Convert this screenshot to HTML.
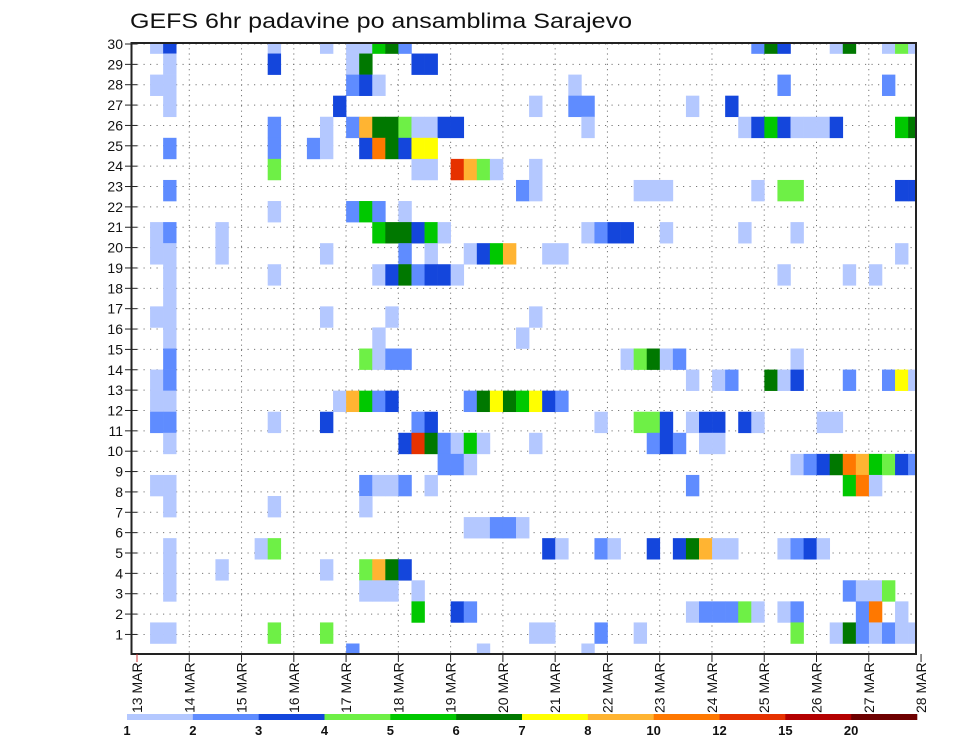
<!DOCTYPE html>
<html><head><meta charset="utf-8"><style>
html,body{margin:0;padding:0;background:#fff;}
svg{display:block;font-family:"Liberation Sans",sans-serif;}
</style></head><body>
<svg id="chart" width="960" height="742" viewBox="0 0 960 742" xmlns="http://www.w3.org/2000/svg">
<text x="130" y="28" font-size="21" textLength="502" lengthAdjust="spacingAndGlyphs" fill="#111">GEFS 6hr padavine po ansamblima Sarajevo</text>
<defs><clipPath id="pc"><rect x="131.5" y="43" width="784.5" height="611"/></clipPath></defs>
<g id="grid"></g>
<g id="cells" clip-path="url(#pc)"></g>
<rect x="131.5" y="43" width="784.5" height="611" fill="none" stroke="#222" stroke-width="2"/>
<g id="yaxis"></g>
<g id="xaxis"></g>
<g id="cbar"></g>
</svg>
<script>
// member rows top (r0) to bottom (r29); each 10-char group = 10 six-hour columns; char = colour level index (0 none)
const Z="0000000000";
const rowData = [
["0130000000","1000101156","2000000000",Z,"0000000263","0001600141"],
["0010000000","3000001600","0330000000",Z,Z,Z],
["0110000000","0000002310",Z,"0001000000","0000000002","0000000200"],
["0010000000","0000030000",Z,"1002200000","0010030000",Z],
[Z,"2000102866","4113300000","0000100000","0000001353","1113000056"],
["0020000000","2002100396","3770000000",Z,Z,Z],
[Z,"4000000000","0110a84100","1000000000",Z,Z],
["0020000000",Z,"0000000002","1000000011","1000000104","4000000033"],
[Z,"1000002520","1000000000",Z,Z,Z],
["0120001000","0000000056","6351000000","0000123300","1000001000","1000000000"],
["0110001000","0000100000","2010013580","0110000000",Z,"0000000010"],
["0010000000","1000000013","6233100000",Z,"0000000001","0000101000"],
["0010000000",Z,Z,Z,Z,Z],
["0110000000","0000100001",Z,"1000000000",Z,Z],
["0010000000","0000000010","0000000001",Z,Z,Z],
["0020000000","0000000412","2000000000","0000000146","1200000000","1000000000"],
["0120000000",Z,Z,Z,"0010120061","3000200271"],
["0110000000","0000018523","0000026765","7320000000",Z,Z],
["0220000000","1000300000","0230000000","0000010044","3013303100","0011000000"],
["0010000000",Z,"3a62151000","1000000002","3201100000",Z],
[Z,Z,"0002210000",Z,Z,"1236985432"],
["0110000000","0000000211","2010000000",Z,"0020000000","0000591000"],
["0010000000","1000000100",Z,Z,Z,Z],
[Z,Z,"0000011221",Z,Z,Z],
["0010000001","4000000000",Z,"0310021003","0368110001","2310000000"],
["0010001000","0000100486","3000000000",Z,Z,Z],
["0010000000","0000000111","0100000000",Z,Z,"0000211400"],
[Z,Z,"0500320000",Z,"0012224101","2000029010"],
["0110000000","4000400000",Z,"1100020010",Z,"4001621211"],
[Z,"0000002000","0000001000","0000100000",Z,Z]
];
const levelColors = ["none","#b4c8ff","#5f8cff","#1446dc","#6ef046","#00c800","#007800","#ffff00","#ffb432","#ff7800","#e63200","#b40000","#6e0000"];
const colorbarLabels = ["1","2","3","4","5","6","7","8","10","12","15","20"];
const yTickLabels = [1,2,3,4,5,6,7,8,9,10,11,12,13,14,15,16,17,18,19,20,21,22,23,24,25,26,27,28,29,30];
const dayLabels = ["13","14","15","16","17","18","19","20","21","22","23","24","25","26","27","28"];
const ns="http://www.w3.org/2000/svg";
function mk(t,a,p){const e=document.createElementNS(ns,t);for(const k in a)e.setAttribute(k,a[k]);p.appendChild(e);return e;}
const X0=137, colW=13.07, dayW=52.27;
const xCol=c=>X0+c*colW;
const xDay=d=>X0+d*dayW;
const rowH=21.07, rowY0=43;
const yRow=r=>rowY0+rowH*(r-0.5);
const yLab=n=>44+(30-n)*20.36;
const rows=rowData.map(g=>g.join(''));
const grid=document.getElementById('grid');
yTickLabels.forEach(n=>{
  const l=mk('line',{x1:137,x2:916,y1:yLab(n),y2:yLab(n),stroke:'#777','stroke-width':1,'stroke-dasharray':'1.2 5.3'},grid);
  
  
});
for(let d=1;d<15;d++){
  const l=mk('line',{x1:xDay(d),x2:xDay(d),y1:43,y2:654,stroke:'#777','stroke-width':1,'stroke-dasharray':'1.2 4'},grid);
  
  
}
const cells=document.getElementById('cells');
rows.forEach((s,r)=>{
  for(let c=0;c<60&&c<s.length;c++){
    const v=parseInt(s[c],16);
    if(!v)continue;
    const e=mk('rect',{x:xCol(c),y:yRow(r),width:colW+0.3,height:rowH+0.3,fill:levelColors[v]},cells);
    
    
  }
});
const ya=document.getElementById('yaxis');
yTickLabels.forEach(n=>{
  mk('line',{x1:125,x2:137,y1:yLab(n),y2:yLab(n),stroke:'#222','stroke-width':1},ya);
  const t=mk('text',{x:123,y:yLab(n)+5,'font-size':14,'text-anchor':'end',fill:'#111'},ya);
  
  
  t.textContent=n;
});
const xa=document.getElementById('xaxis');
dayLabels.forEach((d,i)=>{
  const x=xDay(i);
  mk('line',{x1:x,x2:x,y1:654,y2:662,stroke:i==0?'#c33':'#222','stroke-width':1},xa);
  const t=mk('text',{x:0,y:0,'font-size':14,fill:'#111',transform:`translate(${x+5},713) rotate(-90)`},xa);
  
  
  t.textContent=d+' MAR';
});
const cb=document.getElementById('cbar');
const cbX0=127, cbW=(917-127)/12;
colorbarLabels.forEach((lab,i)=>{
  const r=mk('rect',{x:cbX0+i*cbW,y:714,width:cbW+0.3,height:6,fill:levelColors[i+1]},cb);
  
  
  const t=mk('text',{x:cbX0+i*cbW,y:735,'font-size':13,'font-weight':'bold','text-anchor':'middle',fill:'#111'},cb);
  
  
  t.textContent=lab;
});
</script>
</body></html>
